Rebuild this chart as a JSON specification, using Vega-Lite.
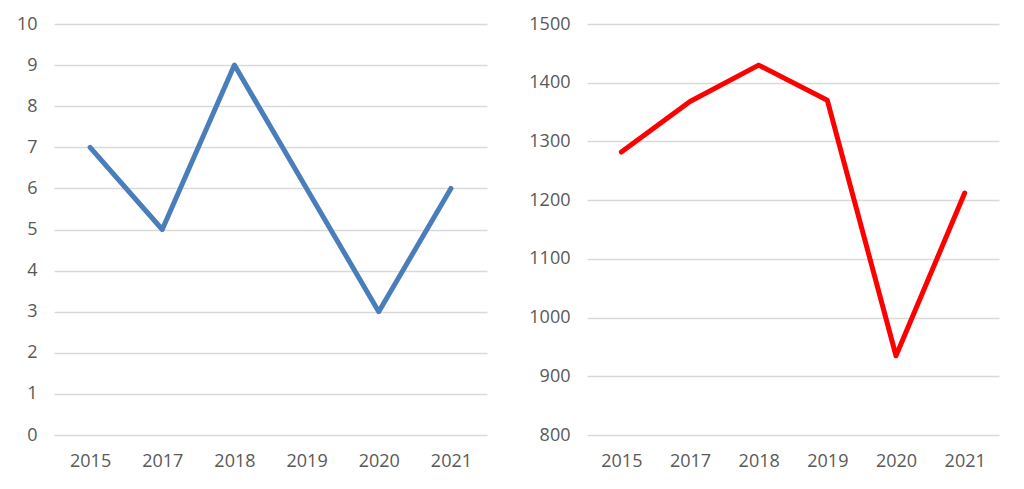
{
  "$schema": "https://vega.github.io/schema/vega-lite/v6.json",
  "padding": {"left": 16, "top": 15, "right": 5, "bottom": 5},
  "spacing": 41,
  "background": "white",
  "datasets": {
    "series": [
      {"year": "2015", "count": 7, "value": 1282},
      {"year": "2017", "count": 5, "value": 1368},
      {"year": "2018", "count": 9, "value": 1430},
      {"year": "2019", "count": 6, "value": 1370},
      {"year": "2020", "count": 3, "value": 935},
      {"year": "2021", "count": 6, "value": 1212}
    ]
  },
  "config": {
    "view": {"stroke": null},
    "font": "Open Sans",
    "axis": {
      "domain": false,
      "ticks": false,
      "title": null,
      "labelFont": "Open Sans",
      "labelFontSize": 18,
      "labelColor": "#595959",
      "gridColor": "#d9d9d9",
      "gridWidth": 1.5
    },
    "axisX": {"grid": false, "labelAngle": 0, "labelPadding": 17},
    "axisY": {"labelPadding": 17, "format": "d"}
  },
  "hconcat": [
    {
      "width": 433,
      "height": 411,
      "data": {"name": "series"},
      "mark": {"type": "line", "color": "#4a7ebb", "strokeWidth": 5, "strokeCap": "round", "strokeJoin": "round"},
      "encoding": {
        "x": {"field": "year", "type": "ordinal", "sort": null, "scale": {"padding": 0.5}},
        "y": {"field": "count", "type": "quantitative", "scale": {"domain": [0, 10], "nice": false}, "axis": {"values": [0,1,2,3,4,5,6,7,8,9,10]}}
      }
    },
    {
      "width": 412,
      "height": 411,
      "data": {"name": "series"},
      "mark": {"type": "line", "color": "#ff0000", "strokeWidth": 5, "strokeCap": "round", "strokeJoin": "round"},
      "encoding": {
        "x": {"field": "year", "type": "ordinal", "sort": null, "scale": {"padding": 0.5}},
        "y": {"field": "value", "type": "quantitative", "scale": {"domain": [800, 1500], "nice": false, "zero": false}, "axis": {"values": [800,900,1000,1100,1200,1300,1400,1500]}}
      }
    }
  ]
}
